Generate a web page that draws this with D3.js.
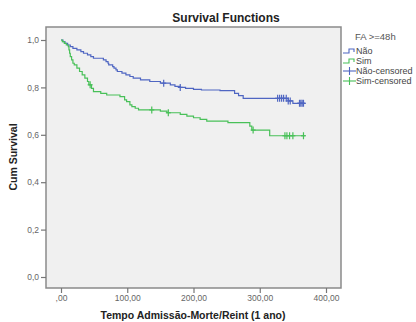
<!DOCTYPE html>
<html>
<head>
<meta charset="utf-8">
<script src="https://cdn.jsdelivr.net/npm/d3@7"></script>
<style>
  body { margin: 0; background: #fff; }
  svg { display: block; font-family: "Liberation Sans", Arial, sans-serif; }
</style>
</head>
<body>
<div id="chart"></div>
<script>
// Kaplan-Meier steps: time at which survival drops, and survival after the drop.
var naoTimes = [0, 3, 6, 10, 14, 18, 24, 30, 34, 40, 45, 49, 64, 68, 71, 72, 78, 80, 83, 85, 92, 98, 104, 109, 120, 134, 150, 165, 172, 180, 188, 200, 212, 240, 262, 268, 275, 343, 350, 368];
var naoSurv  = [1.0, 0.993, 0.986, 0.979, 0.972, 0.965, 0.958, 0.951, 0.944, 0.937, 0.930, 0.923, 0.916, 0.909, 0.902, 0.895, 0.888, 0.881, 0.874, 0.867, 0.860, 0.853, 0.846, 0.839, 0.832, 0.825, 0.818, 0.811, 0.804, 0.800, 0.796, 0.792, 0.789, 0.786, 0.775, 0.765, 0.754, 0.743, 0.733, 0.733];
var simTimes = [0, 2, 5, 8, 11, 12, 13, 14, 16, 18, 20, 24, 28, 32, 36, 40, 42, 46, 49, 60, 69, 89, 96, 99, 104, 107, 112, 117, 150, 160, 180, 190, 200, 210, 220, 252, 285, 288, 315, 368];
var simSurv  = [1.0, 0.993, 0.986, 0.979, 0.972, 0.958, 0.944, 0.930, 0.916, 0.902, 0.895, 0.881, 0.867, 0.853, 0.839, 0.825, 0.811, 0.796, 0.782, 0.775, 0.768, 0.761, 0.747, 0.740, 0.726, 0.719, 0.712, 0.705, 0.700, 0.693, 0.686, 0.679, 0.672, 0.665, 0.658, 0.651, 0.637, 0.620, 0.596, 0.596];
// censored observations (times)
var naoCensored = [155, 180, 327, 330, 333, 336, 340, 343, 346, 360, 362, 364, 366];
var simCensored = [44, 137, 162, 290, 338, 341, 345, 350, 366];

var yTicks = [0, 0.2, 0.4, 0.6, 0.8, 1.0];
var xTicks = [0, 100, 200, 300, 400];
var legendLabels = ["Não", "Sim", "Não-censored", "Sim-censored"];

var BLUE = "#4f66c2";
var GREEN = "#48c058";

var W = 416, H = 322;
var frame = { left: 46, top: 27, right: 341, bottom: 288 };

var svg = d3.select("#chart").append("svg")
  .attr("width", W)
  .attr("height", H);

var x = d3.scaleLinear().domain([0, 400]).range([61, 326]);
var y = d3.scaleLinear().domain([0, 1]).range([277, 40]);

// plot background + frame
svg.append("rect")
  .attr("x", frame.left)
  .attr("y", frame.top)
  .attr("width", frame.right - frame.left)
  .attr("height", frame.bottom - frame.top)
  .attr("fill", "#f0f0f0")
  .attr("stroke", "#8a8a8a")
  .attr("stroke-width", 1.5);

// axes
var comma = function (d) { return d3.format(".1f")(d).replace(".", ","); };
var yAxis = svg.append("g")
  .attr("transform", "translate(" + frame.left + ",0)")
  .call(d3.axisLeft(y).tickValues(yTicks).tickFormat(comma).tickSize(5).tickPadding(2));

var xAxis = svg.append("g")
  .attr("transform", "translate(0," + frame.bottom + ")")
  .call(d3.axisBottom(x).tickValues(xTicks)
    .tickFormat(function (d) { return d === 0 ? ",00" : d + ",00"; })
    .tickSize(5).tickPadding(2));

[yAxis, xAxis].forEach(function (g) {
  g.select(".domain").remove();
  g.selectAll(".tick line").attr("stroke", "#777").attr("stroke-width", 1.2);
  g.selectAll(".tick text")
    .attr("fill", "#666")
    .style("font-size", "8.5px")
    .style("font-family", "'Liberation Sans', Arial, sans-serif");
});

// titles
svg.append("text")
  .attr("x", 226).attr("y", 22)
  .attr("text-anchor", "middle")
  .attr("fill", "#222")
  .style("font-size", "12px")
  .style("font-weight", "bold")
  .text("Survival Functions");

svg.append("text")
  .attr("x", 193).attr("y", 319)
  .attr("text-anchor", "middle")
  .attr("fill", "#222")
  .style("font-size", "10.5px")
  .style("font-weight", "bold")
  .text("Tempo Admissão-Morte/Reint (1 ano)");

svg.append("text")
  .attr("transform", "translate(17,157) rotate(-90)")
  .attr("text-anchor", "middle")
  .attr("fill", "#222")
  .style("font-size", "10.5px")
  .style("font-weight", "bold")
  .text("Cum Survival");

// survival curves
function stepsOf(times, surv) {
  return times.map(function (t, i) { return { t: t, s: surv[i] }; });
}
function survAt(times, surv, t) {
  var i = d3.bisectRight(times, t) - 1;
  return surv[Math.max(0, i)];
}

var line = d3.line()
  .x(function (d) { return x(d.t); })
  .y(function (d) { return y(d.s); })
  .curve(d3.curveStepAfter);

var series = [
  { times: naoTimes, surv: naoSurv, cens: naoCensored, color: BLUE },
  { times: simTimes, surv: simSurv, cens: simCensored, color: GREEN }
];

series.forEach(function (s) {
  svg.append("path")
    .datum(stepsOf(s.times, s.surv))
    .attr("fill", "none")
    .attr("stroke", s.color)
    .attr("stroke-width", 1.2)
    .attr("d", line);

  var marks = svg.append("g").selectAll("g")
    .data(s.cens)
    .join("g")
    .attr("transform", function (t) {
      return "translate(" + x(t) + "," + y(survAt(s.times, s.surv, t)) + ")";
    });
  marks.append("line")
    .attr("x1", 0).attr("x2", 0).attr("y1", -3.5).attr("y2", 3.5)
    .attr("stroke", s.color).attr("stroke-width", 1.2);
  marks.append("line")
    .attr("x1", -2.5).attr("x2", 2.5).attr("y1", 0).attr("y2", 0)
    .attr("stroke", s.color).attr("stroke-width", 1.2);
});

// legend
var legend = svg.append("g");
legend.append("text")
  .attr("x", 355).attr("y", 40)
  .attr("fill", "#555")
  .style("font-size", "9.5px")
  .text("FA >=48h");

var rowY = [51, 61, 71, 81];
var rowColor = [BLUE, GREEN, BLUE, GREEN];
legendLabels.forEach(function (lab, i) {
  var yy = rowY[i];
  if (i < 2) {
    legend.append("path")
      .attr("d", "M343," + (yy + 2) + "H349V" + (yy - 2) + "H354V" + (yy + 1))
      .attr("fill", "none")
      .attr("stroke", rowColor[i])
      .attr("stroke-width", 1.1);
  } else {
    legend.append("line")
      .attr("x1", 343).attr("x2", 356).attr("y1", yy).attr("y2", yy)
      .attr("stroke", rowColor[i]).attr("stroke-width", 1.1);
    legend.append("line")
      .attr("x1", 349.5).attr("x2", 349.5).attr("y1", yy - 4).attr("y2", yy + 4)
      .attr("stroke", rowColor[i]).attr("stroke-width", 1.1);
  }
  legend.append("text")
    .attr("x", 356).attr("y", yy + 3)
    .attr("fill", "#444")
    .style("font-size", "9px")
    .text(lab);
});
</script>
</body>
</html>
